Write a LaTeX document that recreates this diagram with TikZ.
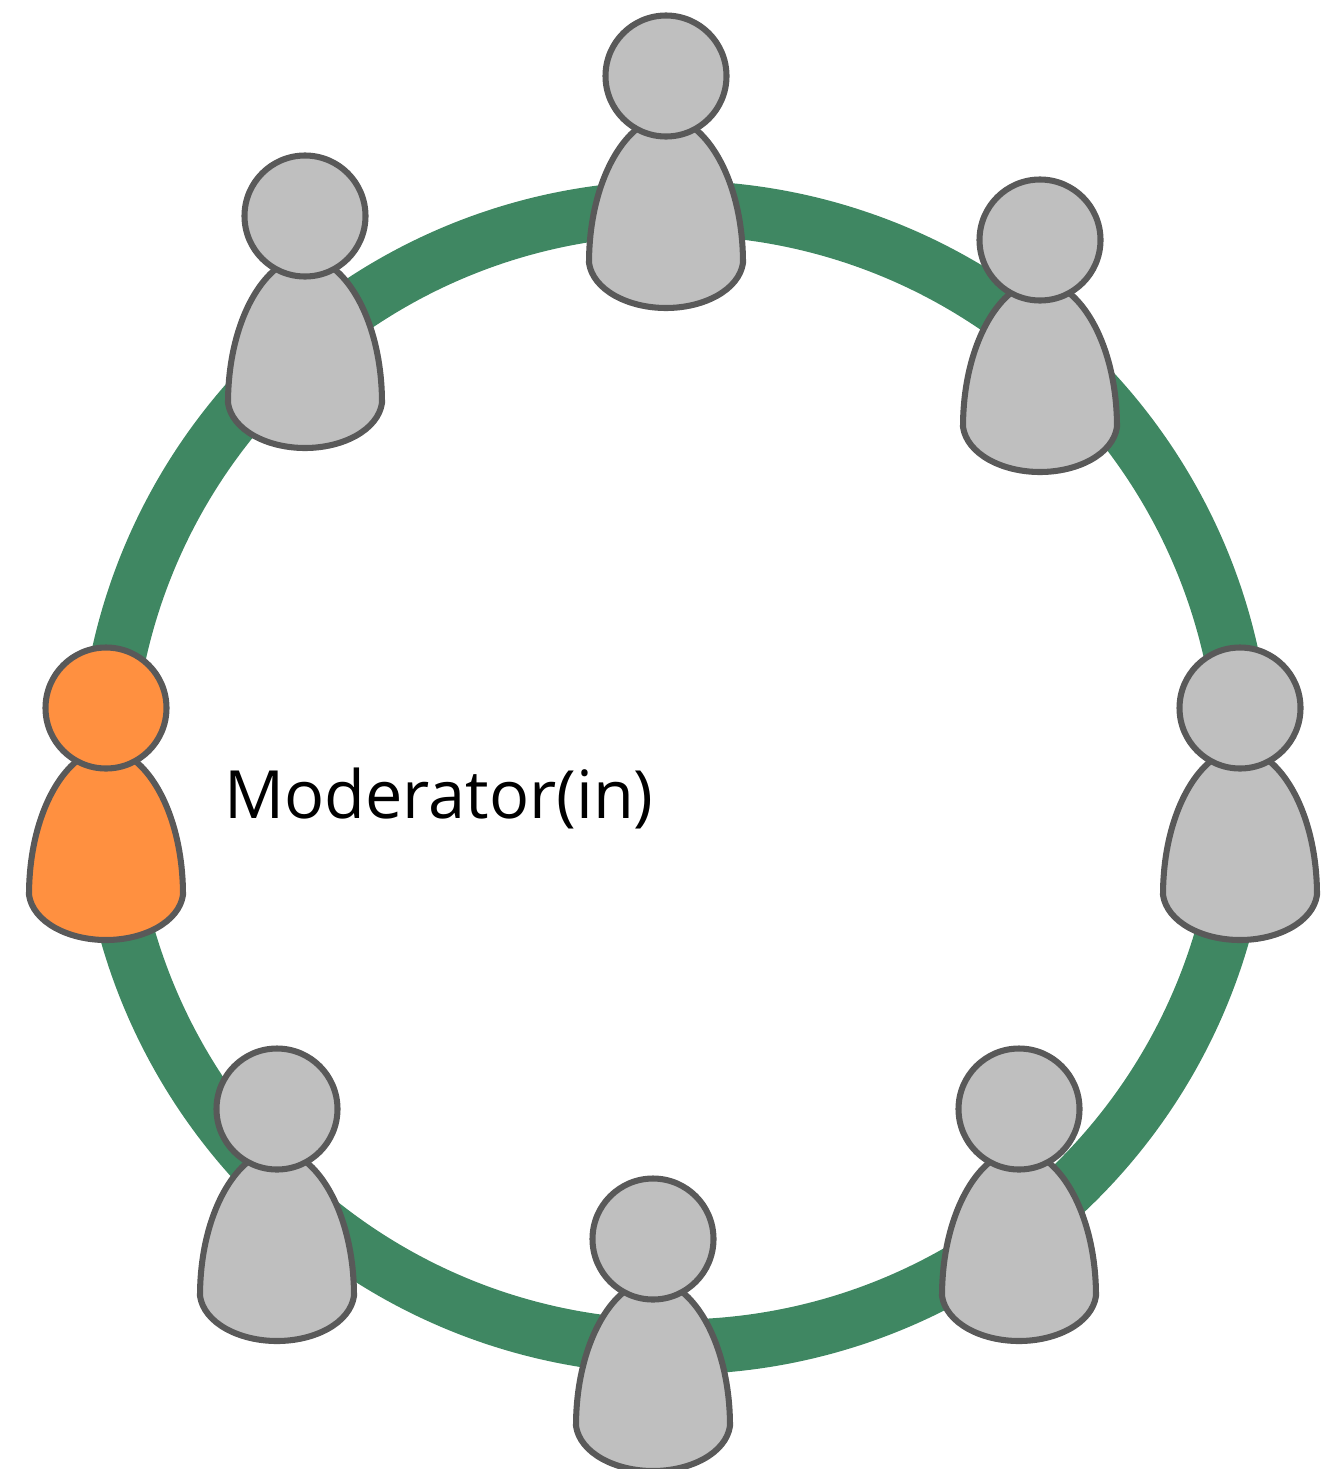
\documentclass[tikz,border=0pt]{standalone}
\usepackage{fontspec}
\setmainfont{Open Sans}
\definecolor{ringgreen}{HTML}{3F8762}
\definecolor{persongray}{HTML}{BFBFBF}
\definecolor{personorange}{HTML}{FF9040}
\definecolor{edgegray}{HTML}{595959}
\tikzset{
  x=0.0264cm,y=-0.0264cm,
  personline/.style={draw=edgegray,line width=0.16cm,line join=round},
  pics/person/.style={code={
    \path[personline,fill=#1] (-28,52) .. controls (-56,74) and (-77,125) .. (-77,187)
      .. controls (-73,214) and (-38,232) .. (0,232)
      .. controls (38,232) and (73,214) .. (77,187)
      .. controls (77,125) and (56,74) .. (28,52) -- cycle;
    \path[personline,fill=#1] (0,0) circle (60.5);
  }}
}
\begin{document}
\begin{tikzpicture}
\useasboundingbox (0,0) rectangle (1322,1469);
\coordinate (c) at (675,777.5);
\draw[draw=ringgreen,line width=1.45cm] (c) circle (569.5);
\pic at (666,76) {person=persongray};
\pic at (305,216) {person=persongray};
\pic at (1040,240) {person=persongray};
\pic at (1240,708) {person=persongray};
\pic at (106,708) {person=personorange};
\pic at (277,1109) {person=persongray};
\pic at (1019,1109) {person=persongray};
\pic at (653,1239) {person=persongray};
\node[anchor=west,inner sep=0pt,font=\fontsize{50}{60}\selectfont] (mod) at (224,798) {Moderator(in)};
\end{tikzpicture}
\end{document}
